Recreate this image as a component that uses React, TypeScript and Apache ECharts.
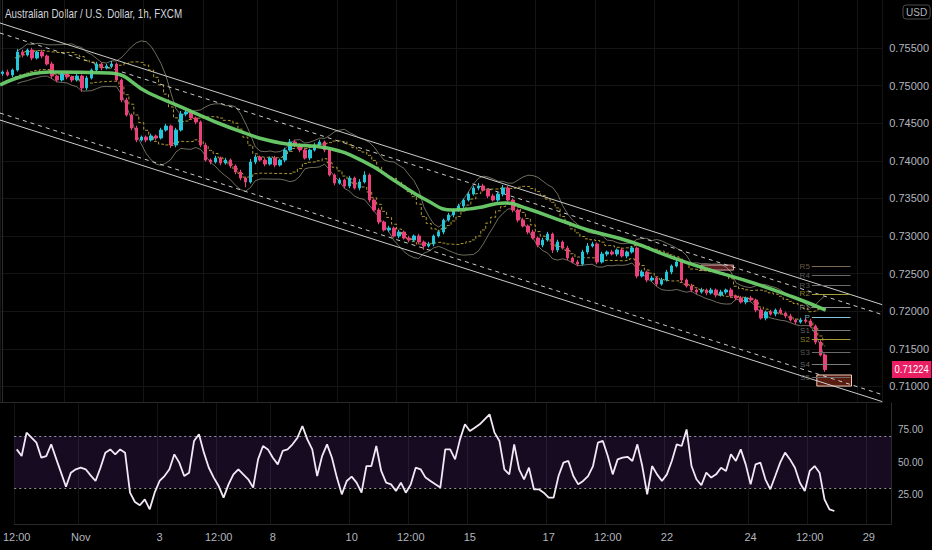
import React, { useEffect, useRef } from "react";
import * as echarts from "echarts";

const titleText = "Australian Dollar / U.S. Dollar, 1h, FXCM";
const firstOpen = 0.7516;
const lastPrice = 0.71224;

const closes = [
  0.75181, 0.75141, 0.75207, 0.75447, 0.75407, 0.75473, 0.75367, 0.75447, 0.75393, 0.75287,
  0.75127, 0.75074, 0.75154, 0.75114, 0.75074, 0.75127, 0.74968, 0.75101, 0.75207, 0.75287,
  0.75234, 0.7526, 0.75287, 0.75074, 0.74808, 0.74609, 0.74436, 0.74276, 0.74316, 0.74276,
  0.7433, 0.74303, 0.74409, 0.74462, 0.7421, 0.74409, 0.74622, 0.74649, 0.74569, 0.74516,
  0.7421, 0.7401, 0.73984, 0.74037, 0.7397, 0.7401, 0.73931, 0.73851, 0.73771, 0.73718,
  0.73984, 0.7405, 0.7401, 0.73957, 0.74037, 0.73944, 0.7401, 0.74143, 0.7425, 0.7421,
  0.74143, 0.74037, 0.74143, 0.7421, 0.7425, 0.74143, 0.73811, 0.73704, 0.73744, 0.73665,
  0.73771, 0.73638, 0.73718, 0.73811, 0.73478, 0.73345, 0.73186, 0.7308, 0.73106, 0.73,
  0.73053, 0.72973, 0.72946, 0.73, 0.7292, 0.72867, 0.72893, 0.73, 0.73053, 0.73212,
  0.73279, 0.73345, 0.73399, 0.73478, 0.73558, 0.73638, 0.73665, 0.73611, 0.73532, 0.73478,
  0.73558, 0.73638, 0.73478, 0.73345, 0.73212, 0.73133, 0.73053, 0.72973, 0.7288, 0.72946,
  0.73026, 0.72814, 0.7292, 0.7284, 0.72707, 0.72654, 0.72627, 0.72787, 0.72867, 0.72893,
  0.72654, 0.7276, 0.72787, 0.7276, 0.72814, 0.72734, 0.72787, 0.7284, 0.72468, 0.72521,
  0.72415, 0.72441, 0.72361, 0.72415, 0.72521, 0.72601, 0.72654, 0.72415, 0.72335, 0.72282,
  0.72255, 0.72282, 0.72242, 0.72282, 0.72215, 0.72255, 0.72282, 0.72202, 0.72175, 0.72122,
  0.72175, 0.72149, 0.72016, 0.71909, 0.71989, 0.71962, 0.72016, 0.71976, 0.71936, 0.71883,
  0.71856, 0.71883, 0.71869, 0.71803, 0.7159, 0.71417, 0.71224,
];

// wick extensions beyond the body, in pips (0.0001)
const wickHi = [
  2, 3, 2, 4, 3, 2, 3, 2, 3, 2, 3, 2, 2, 3, 2, 3, 2, 3, 2, 3,
  2, 3, 4, 2, 2, 3, 2, 3, 2, 2, 3, 2, 3, 3, 2, 3, 4, 3, 2, 2,
  2, 3, 2, 3, 2, 3, 2, 2, 3, 2, 4, 3, 2, 3, 2, 3, 2, 3, 4, 3,
  2, 3, 2, 3, 3, 2, 3, 2, 3, 2, 3, 2, 4, 5, 2, 2, 3, 2, 3, 2,
  3, 2, 3, 2, 3, 2, 3, 2, 3, 2, 3, 2, 3, 2, 3, 3, 4, 3, 2, 3,
  3, 4, 3, 2, 2, 3, 2, 3, 2, 3, 3, 2, 3, 2, 3, 2, 3, 3, 4, 3,
  2, 3, 2, 3, 2, 3, 2, 3, 2, 3, 2, 3, 2, 3, 3, 2, 4, 3, 2, 3,
  2, 3, 2, 3, 2, 3, 2, 3, 2, 3, 2, 3, 2, 3, 2, 3, 2, 3, 2, 3,
  2, 3, 2, 3, 2, 3, 2,
];
const wickLo = [
  3, 2, 3, 2, 3, 2, 3, 2, 3, 2, 3, 3, 2, 3, 3, 2, 5, 3, 2, 2,
  3, 2, 3, 2, 3, 2, 3, 3, 2, 3, 2, 3, 2, 2, 4, 3, 2, 3, 2, 3,
  3, 2, 3, 2, 3, 2, 3, 3, 3, 7, 2, 3, 2, 3, 2, 3, 2, 3, 2, 3,
  3, 2, 3, 2, 2, 3, 2, 3, 2, 3, 3, 2, 3, 2, 3, 2, 3, 2, 3, 2,
  3, 2, 3, 2, 3, 5, 2, 3, 2, 3, 2, 3, 2, 3, 2, 2, 3, 2, 3, 2,
  2, 3, 2, 3, 3, 2, 3, 2, 3, 3, 2, 4, 3, 2, 3, 2, 3, 2, 3, 2,
  3, 2, 3, 2, 3, 2, 3, 2, 3, 2, 3, 2, 3, 2, 2, 3, 2, 3, 2, 3,
  3, 2, 3, 2, 3, 2, 3, 2, 3, 2, 3, 2, 3, 2, 3, 2, 3, 2, 3, 2,
  3, 2, 3, 2, 3, 2, 3,
];

const rsiValues = [
  59.7, 54.6, 72.6, 68.7, 64.9, 53.3, 54.6, 63.6, 52.6, 41.8,
  31, 41.8, 44.4, 45.6, 44.4, 39.7, 35.4, 45.6, 57.2, 59.7,
  55.9, 59.7, 57.2, 26.4, 19.2, 16.7, 21.3, 13.6, 26.4, 35.4,
  39.2, 44.4, 55.9, 49.5, 39.2, 41.8, 66.2, 71.3, 57.2, 45.6,
  38, 31.5, 22.6, 32.8, 40.5, 44.4, 40.5, 36.7, 30.3, 52,
  62.3, 59.7, 53.3, 48.2, 58.5, 59.7, 63.6, 68.7, 77.7, 67.4,
  59.7, 39.2, 54.6, 63.6, 53.3, 38, 25.1, 35.4, 38.7, 34.1,
  26.4, 46.9, 46.9, 62.3, 43.1, 34.1, 32.8, 27.7, 34.1, 26.4,
  32.8, 45.6, 44.4, 38, 35.4, 32.8, 30.3, 59.7, 59.7, 52,
  67.4, 79, 73.8, 76.4, 79, 82.8, 86.7, 72.6, 66.2, 44.4,
  40.5, 63.6, 44.4, 36.7, 45.6, 29, 29, 26.4, 22.6, 22.6,
  39.2, 49.5, 50.8, 39.2, 32.8, 35.4, 39.2, 46.9, 64.9, 66.2,
  54.6, 40.5, 52, 53.3, 54, 50.8, 63.6, 46.9, 25.1, 46.9,
  40.5, 35.4, 40.5, 50.8, 63.6, 62.3, 75.1, 46.9, 36.7, 32.1,
  41.8, 38, 40.5, 45.6, 43.1, 55.9, 50.8, 59.7, 48.2, 32.8,
  48.2, 49.5, 36.7, 29, 39.2, 49.5, 57.2, 52, 45.6, 34.1,
  27.7, 43.1, 46.9, 41.8, 21.3, 13.6, 12.3,
];

// slow moving average: [bar index, price]
const maPoints = [
  [-0.5, 0.75008], [9.5, 0.75181], [21.5, 0.75167], [29.5, 0.74901], [36.1, 0.74715],
  [46.1, 0.74436], [56.1, 0.74236], [65.5, 0.7417], [73.5, 0.7397], [78.9, 0.73744],
  [85.5, 0.73478], [90.9, 0.73345], [95.5, 0.73372], [101.5, 0.73439], [105.5, 0.73372],
  [113.5, 0.73186], [118.1, 0.7308], [126.9, 0.7292], [134.9, 0.7272], [141.5, 0.72574],
  [151.5, 0.72375], [159.5, 0.72189], [166.1, 0.72016],
];

// channel lines: [bar index, price] at both ends
const chanUpperSolid = [[-0.5, 0.75832], [177.5, 0.72087]];
const chanUpperDashed = [[-0.5, 0.75699], [177.5, 0.71955]];
const chanLowerDashed = [[-0.5, 0.74635], [177.5, 0.70891]];
const chanLowerSolid = [[-0.5, 0.74542], [177.5, 0.70798]];

const pivotNames = ["R5", "R4", "R3", "R2", "R1", "P", "S1", "S2", "S3", "S4", "S5"];
const pivotLevels = [0.72601, 0.72481, 0.72348, 0.72229, 0.72056, 0.71923, 0.7175, 0.7163, 0.71457, 0.71298, 0.71125];
const pivotColors = ["#7d6a55", "#6a6a6a", "#6a6a6a", "#a39a3c", "#8c8c8c", "#7fc7d9", "#7a7a7a", "#a89b3a", "#6a6a6a", "#7a7a7a", "#6a6a6a"];
const pivotRange = [163.3, 171.1];

// zones: [x0, price0, x1, price1]
const zoneTop = [140.9, 0.72614, 147.5, 0.72547];
const zoneBottom = [164.3, 0.71152, 171.3, 0.71005];

const slotCount = 178;
const timeLabels: [number, string][] = [
  [0, "12:00"], [13, "Nov"], [29, "3"], [41, "12:00"], [52, "8"], [68, "10"], [80, "12:00"],
  [92, "15"], [108, "17"], [120, "12:00"], [132, "22"], [149, "24"], [161, "12:00"], [173, "29"],
];
const priceTicks = [0.71, 0.715, 0.72, 0.725, 0.73, 0.735, 0.74, 0.745, 0.75, 0.755];
const rsiTicks = [25, 50, 75];

const FONT = "'Liberation Sans Narrow', 'Liberation Sans', Arial, sans-serif";
const AXIS_TXT = "#b2b5be";
const GRID_LINE = "#141414";

function buildCandles() {
  const out: number[][] = [];
  let prev = firstOpen;
  closes.forEach((c, i) => {
    const o = prev;
    const hi = Math.max(o, c) + wickHi[i] * 0.0001;
    const lo = Math.min(o, c) - wickLo[i] * 0.0001;
    out.push([o, c, lo, hi]);
    prev = c;
  });
  return out;
}

function band(period: number, k: number) {
  const up: (number | string)[] = [];
  const dn: (number | string)[] = [];
  closes.forEach((_, i) => {
    if (i < 3) {
      up.push("-");
      dn.push("-");
      return;
    }
    const s = closes.slice(Math.max(0, i - period + 1), i + 1);
    const m = s.reduce((a, b) => a + b, 0) / s.length;
    const sd = Math.sqrt(s.reduce((a, b) => a + (b - m) * (b - m), 0) / s.length);
    up.push(m + k * sd);
    dn.push(m - k * sd);
  });
  return [up, dn];
}

export default function App() {
  const ref = useRef<HTMLDivElement>(null);

  useEffect(() => {
    if (!ref.current) return;
    const chart = echarts.init(ref.current, undefined, { renderer: "svg" });

    const cats = Array.from({ length: slotCount }, (_, i) => {
      const f = timeLabels.find((t) => t[0] === i);
      return f ? f[1] : "";
    });
    const showIdx = (_i: number, v: string) => v !== "";
    const [bbUp, bbDn] = band(12, 1.8);
    const [kUp, kDn] = band(12, 1.05);

    const lineSeries = (data: number[][], dashed: boolean, width = 1) => ({
      type: "line",
      xAxisIndex: 1,
      yAxisIndex: 0,
      data,
      symbol: "none",
      silent: true,
      z: 2,
      lineStyle: { color: "rgba(225,225,225,0.9)", width, type: dashed ? [4, 4] : "solid" },
    });

    const option: any = {
      animation: false,
      backgroundColor: "#000000",
      textStyle: { fontFamily: FONT },
      graphic: [
        {
          id: "title",
          type: "text",
          x: 5,
          y: 8,
          scaleX: 0.82,
          style: {
            text: titleText,
            fill: "#d1d4dc",
            fontSize: 12,
            fontFamily: FONT,
          },
        },
        {
          id: "usd",
          type: "text",
          x: 903,
          y: 5,
          style: {
            text: "USD",
            fill: AXIS_TXT,
            fontSize: 10,
            fontFamily: FONT,
            borderColor: "#4a4a4a",
            borderWidth: 1,
            borderRadius: 3,
            padding: [2, 3],
          },
        },
      ],
      grid: [
        { left: 0, right: 41, top: 0, bottom: 148 },
        { left: 0, right: 41, top: 403, bottom: 26 },
      ],
      xAxis: [
        {
          type: "category",
          gridIndex: 0,
          data: cats,
          boundaryGap: true,
          axisLine: { show: true, lineStyle: { color: "#2a2a2a" } },
          axisTick: { show: false },
          axisLabel: { show: false },
          splitLine: { show: true, interval: showIdx, lineStyle: { color: GRID_LINE } },
        },
        { type: "value", gridIndex: 0, min: -0.5, max: slotCount - 0.5, show: false },
        {
          type: "category",
          gridIndex: 1,
          data: cats,
          boundaryGap: true,
          axisLine: { show: true, lineStyle: { color: "#2a2a2a" } },
          axisTick: { show: false },
          axisLabel: {
            show: true,
            interval: showIdx,
            color: AXIS_TXT,
            fontSize: 11,
            margin: 7,
            fontFamily: FONT,
            alignMinLabel: "center",
            alignMaxLabel: "center",
          },
          splitLine: { show: true, interval: showIdx, lineStyle: { color: GRID_LINE } },
        },
      ],
      yAxis: [
        {
          type: "value",
          gridIndex: 0,
          position: "right",
          min: 0.70793,
          max: 0.76138,
          axisLine: { show: true, lineStyle: { color: "#2a2a2a" } },
          axisTick: { show: false, customValues: priceTicks },
          axisLabel: {
            customValues: priceTicks,
            formatter: (v: number) => v.toFixed(5),
            color: AXIS_TXT,
            fontSize: 11,
            margin: 7,
            fontFamily: FONT,
          },
          splitLine: { show: true, lineStyle: { color: GRID_LINE } },
        },
        {
          type: "value",
          gridIndex: 1,
          position: "right",
          min: 2.3,
          max: 95.4,
          axisLine: { show: true, lineStyle: { color: "#2a2a2a" } },
          axisTick: { show: false, customValues: rsiTicks },
          axisLabel: {
            customValues: rsiTicks,
            formatter: (v: number) => v.toFixed(2),
            color: AXIS_TXT,
            fontSize: 10,
            margin: 7,
            fontFamily: FONT,
          },
          splitLine: { show: false },
        },
      ],
      series: [
        lineSeries(chanUpperSolid, false),
        lineSeries(chanUpperDashed, true),
        lineSeries(chanLowerDashed, true),
        lineSeries(chanLowerSolid, false),
        {
          type: "line",
          xAxisIndex: 0,
          yAxisIndex: 0,
          data: bbUp,
          symbol: "none",
          silent: true,
          z: 3,
          lineStyle: { color: "rgba(200,195,170,0.55)", width: 1 },
        },
        {
          type: "line",
          xAxisIndex: 0,
          yAxisIndex: 0,
          data: bbDn,
          symbol: "none",
          silent: true,
          z: 3,
          lineStyle: { color: "rgba(200,195,170,0.55)", width: 1 },
        },
        {
          type: "line",
          xAxisIndex: 0,
          yAxisIndex: 0,
          data: kUp,
          symbol: "none",
          step: "middle",
          silent: true,
          z: 3,
          lineStyle: { color: "rgba(205,180,60,0.85)", width: 1, type: [3, 2] },
        },
        {
          type: "line",
          xAxisIndex: 0,
          yAxisIndex: 0,
          data: kDn,
          symbol: "none",
          step: "middle",
          silent: true,
          z: 3,
          lineStyle: { color: "rgba(205,180,60,0.85)", width: 1, type: [3, 2] },
        },
        {
          type: "candlestick",
          xAxisIndex: 0,
          yAxisIndex: 0,
          data: buildCandles(),
          barWidth: 3,
          z: 4,
          itemStyle: {
            color: "#26c6da",
            color0: "#ec407a",
            borderColor: "#26c6da",
            borderColor0: "#ec407a",
            borderWidth: 1,
          },
        },
        {
          type: "line",
          xAxisIndex: 1,
          yAxisIndex: 0,
          data: maPoints,
          smooth: 0.5,
          symbol: "none",
          silent: true,
          z: 5,
          lineStyle: { color: "#6ccf6c", width: 3.5, opacity: 0.95 },
        },
        {
          type: "line",
          xAxisIndex: 1,
          yAxisIndex: 0,
          data: [],
          silent: true,
          z: 6,
          markLine: {
            silent: true,
            symbol: "none",
            data: pivotLevels.map((v, i) => [
              {
                coord: [pivotRange[0], v],
                lineStyle: { color: pivotColors[i], width: 1, type: "solid" },
                label: {
                  show: true,
                  position: "start",
                  distance: 2,
                  formatter: pivotNames[i],
                  color: pivotColors[i],
                  opacity: 0.85,
                  fontSize: 8,
                  fontFamily: FONT,
                },
              },
              { coord: [pivotRange[1], v] },
            ]),
          },
          markArea: {
            silent: true,
            data: [
              [
                {
                  coord: [zoneTop[0], zoneTop[1]],
                  itemStyle: { color: "rgba(110,40,40,0.8)", borderColor: "#d8a8a8", borderWidth: 1 },
                },
                { coord: [zoneTop[2], zoneTop[3]] },
              ],
              [
                {
                  coord: [zoneBottom[0], zoneBottom[1]],
                  itemStyle: { color: "rgba(110,35,20,0.8)", borderColor: "#f0c8b8", borderWidth: 1 },
                },
                { coord: [zoneBottom[2], zoneBottom[3]] },
              ],
            ],
          },
        },
        {
          type: "line",
          xAxisIndex: 2,
          yAxisIndex: 1,
          data: rsiValues,
          symbol: "none",
          silent: true,
          z: 5,
          lineStyle: { color: "#f3e8f7", width: 1.8 },
          markArea: {
            silent: true,
            itemStyle: { color: "rgba(120,60,180,0.18)" },
            data: [[{ yAxis: 30 }, { yAxis: 70 }]],
          },
          markLine: {
            silent: true,
            symbol: "none",
            label: { show: false },
            lineStyle: { color: "rgba(210,210,210,0.7)", width: 1, type: [2, 3] },
            data: [{ yAxis: 30 }, { yAxis: 70 }],
          },
        },
      ],
    };

    chart.setOption(option);

    // last-price tag placed on the price scale through the axis conversion
    const py = chart.convertToPixel({ yAxisIndex: 0 }, lastPrice) as number;
    const gridRight = (chart.getWidth() - 41) as number;
    chart.setOption({
      graphic: [
        {
          id: "lastTag",
          type: "text",
          x: gridRight + 1,
          y: py,
          z: 100,
          scaleX: 0.86,
          style: {
            text: lastPrice.toFixed(5),
            fill: "#ffffff",
            fontSize: 11,
            fontFamily: FONT,
            backgroundColor: "#e91e63",
            padding: [3, 3, 3, 3],
            verticalAlign: "middle",
          },
        },
      ],
    });

    return () => chart.dispose();
  }, []);

  return (
    <div
      ref={ref}
      style={{ position: "fixed", left: 0, top: 0, width: 932, height: 550, background: "#000" }}
    />
  );
}
